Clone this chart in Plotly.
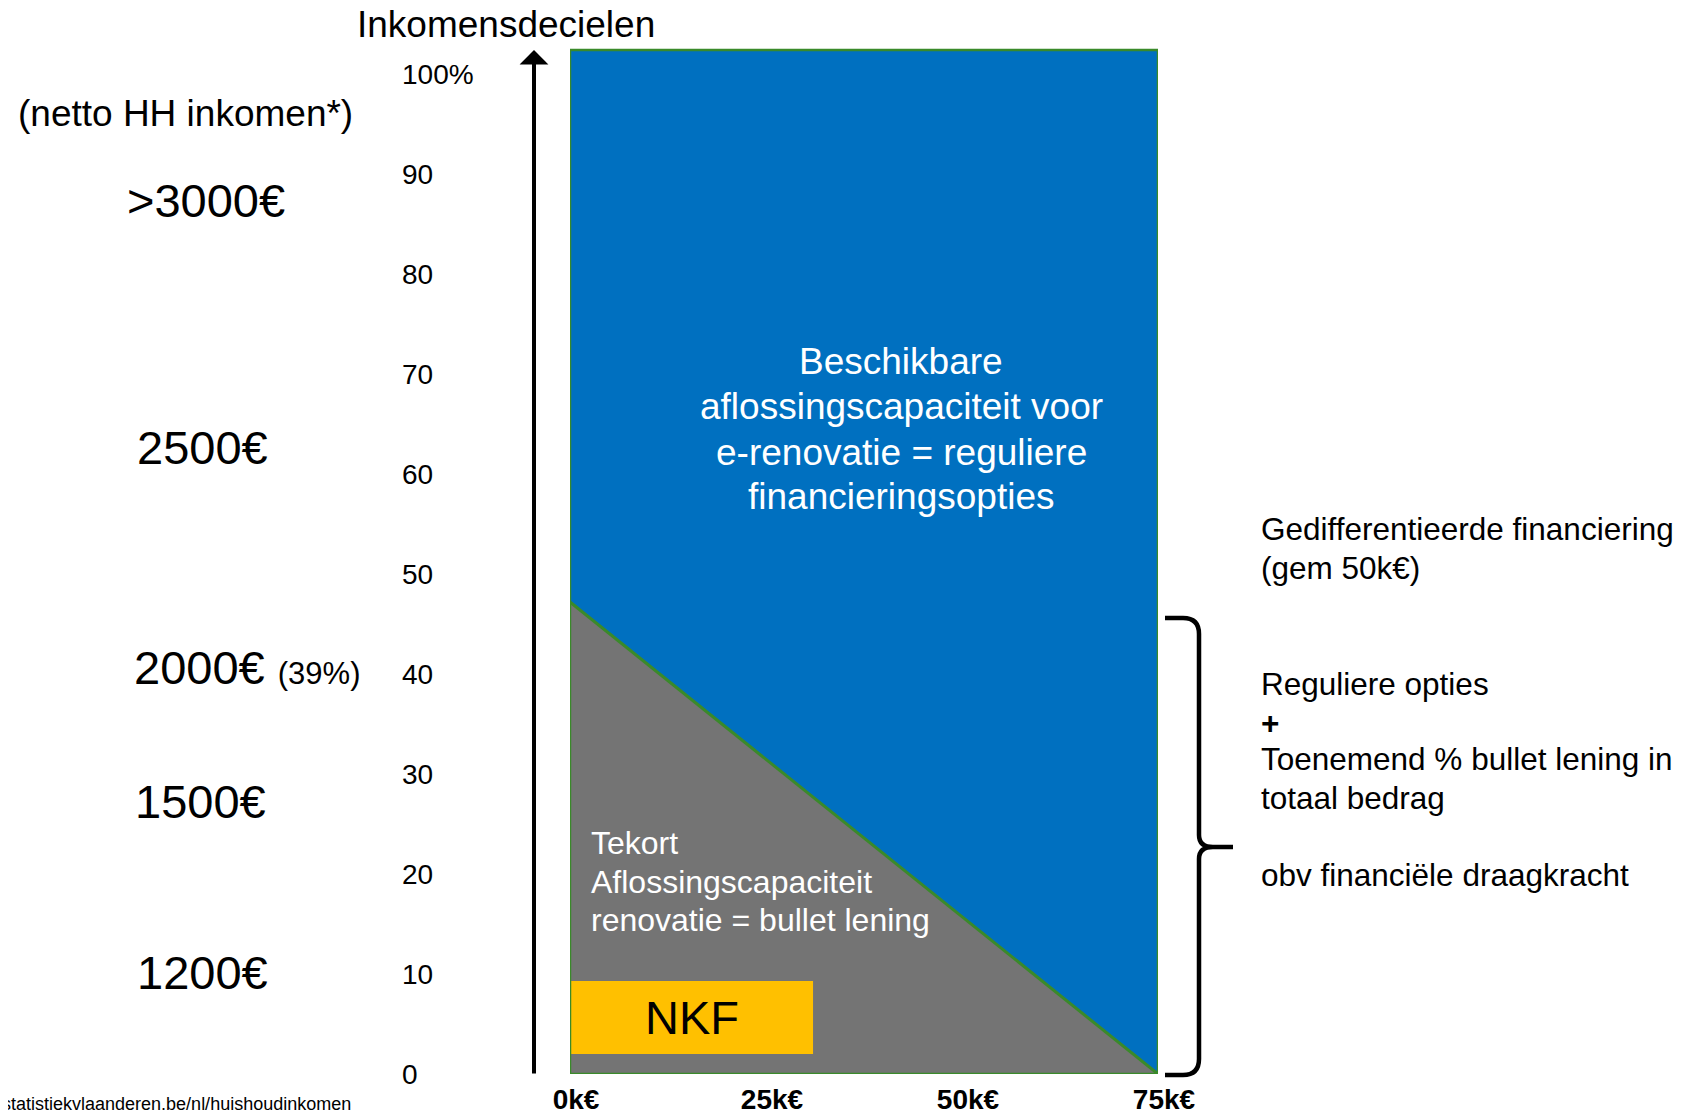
import plotly.graph_objects as go

# ---------------- data ----------------
decile_ticks = [0, 10, 20, 30, 40, 50, 60, 70, 80, 90, 100]
decile_labels = ["0", "10", "20", "30", "40", "50", "60", "70", "80", "90", "100%"]

amount_ticks = [0, 25, 50, 75]
amount_labels = ["0k€", "25k€", "50k€", "75k€"]

# deficit (bullet-loan) boundary: capacity shortfall from 0k€ to 75k€
deficit_x = [0, 75]
deficit_y = [47.2, 0]

# NKF block
nkf_x = [0, 31]
nkf_y = [2.0, 9.3]

rect_top = 102.4

income_labels = [">3000€", "2500€", "2000€", "1500€", "1200€"]
income_decile = [87.4, 62.7, 40.7, 27.3, 10.2]
income_note = "(39%)"

blue_lines = ["Beschikbare", "aflossingscapaciteit voor", "e-renovatie = reguliere", "financieringsopties"]
grey_lines = ["Tekort", "Aflossingscapaciteit", "renovatie = bullet lening"]
right_lines = ["Gedifferentieerde financiering", "(gem 50k€)", "Reguliere opties", "+",
               "Toenemend % bullet lening in", "totaal bedrag", "obv financiële draagkracht"]

# ---------------- layout helpers ----------------
W, H = 1686, 1114
OFF = 8  # page body margin
FONT = "Liberation Sans, Arial, sans-serif"
BLUE = "#0070C0"
GREY = "#747474"
GOLD = "#FFC000"
GREEN = "#3A8A2A"


def px(x):
    return (x - OFF) / W


def py(y):
    return 1 - (y - OFF) / H


fig = go.Figure()

# blue rectangle (available capacity)
fig.add_trace(go.Scatter(x=[0, 0, 75, 75, 0], y=[0, rect_top, rect_top, 0, 0],
                         mode="lines", fill="toself", fillcolor=BLUE,
                         line=dict(width=0, color=BLUE), hoverinfo="skip", cliponaxis=False))
# grey triangle (deficit)
fig.add_trace(go.Scatter(x=[deficit_x[0], deficit_x[0], deficit_x[1], deficit_x[0]],
                         y=[0, deficit_y[0], deficit_y[1], 0],
                         mode="lines", fill="toself", fillcolor=GREY,
                         line=dict(width=0, color=GREY), hoverinfo="skip", cliponaxis=False))
# NKF box
fig.add_trace(go.Scatter(x=[nkf_x[0], nkf_x[0], nkf_x[1], nkf_x[1], nkf_x[0]],
                         y=[nkf_y[0], nkf_y[1], nkf_y[1], nkf_y[0], nkf_y[0]],
                         mode="lines", fill="toself", fillcolor=GOLD,
                         line=dict(width=0, color=GOLD), hoverinfo="skip", cliponaxis=False))
# diagonal boundary
fig.add_trace(go.Scatter(x=deficit_x, y=deficit_y, mode="lines",
                         line=dict(width=3, color=GREEN), hoverinfo="skip", cliponaxis=False))
# rectangle outline
fig.add_trace(go.Scatter(x=[0, 0, 75, 75, 0], y=[0, rect_top, rect_top, 0, 0], mode="lines",
                         line=dict(width=2.5, color=GREEN), hoverinfo="skip", cliponaxis=False))
# invisible trace to carry decile axis
fig.add_trace(go.Scatter(x=[0, 0], y=[0, 100], yaxis="y2", mode="markers",
                         marker=dict(opacity=0), hoverinfo="skip"))

annotations = []

# axis arrow
annotations.append(dict(xref="paper", yref="y", x=px(534), y=rect_top, axref="pixel", ayref="y",
                        ax=0, ay=-0.1, showarrow=True, arrowhead=1, arrowsize=1.2,
                        arrowwidth=4, arrowcolor="black", text=""))

# title
annotations.append(dict(xref="paper", yref="paper", x=px(506), y=py(25), text="Inkomensdecielen",
                        showarrow=False, font=dict(family=FONT, size=37, color="black"),
                        xanchor="center", yanchor="middle"))
annotations.append(dict(xref="paper", yref="paper", x=px(185), y=py(114), text="(netto HH inkomen*)",
                        showarrow=False, font=dict(family=FONT, size=37, color="black"),
                        xanchor="center", yanchor="middle"))

income_x = [206, 202, 132, 200, 202]
for i, (lab, dec) in enumerate(zip(income_labels, income_decile)):
    if lab == "2000€":
        annotations.append(dict(xref="paper", yref="y", x=px(income_x[i]), y=dec,
                                text=lab + " <span style='font-size:31px'>" + income_note + "</span>",
                                showarrow=False, font=dict(family=FONT, size=47, color="black"),
                                xanchor="left", yanchor="middle"))
    else:
        annotations.append(dict(xref="paper", yref="y", x=px(income_x[i]), y=dec, text=lab,
                                showarrow=False, font=dict(family=FONT, size=47, color="black"),
                                xanchor="center", yanchor="middle"))

# source
annotations.append(dict(xref="paper", yref="paper", x=px(353), y=py(1104),
                        text="statistiekvlaanderen.be/nl/huishoudinkomen", showarrow=False,
                        font=dict(family=FONT, size=18, color="black"), xanchor="right", yanchor="middle"))

# blue text
blue_y = [361, 406, 452, 497]
for t, yy in zip(blue_lines, blue_y):
    annotations.append(dict(xref="paper", yref="paper", x=px(901), y=py(yy), text=t, showarrow=False,
                            font=dict(family=FONT, size=37, color="white"),
                            xanchor="center", yanchor="middle"))

# grey text
grey_y = [843, 882, 920]
for t, yy in zip(grey_lines, grey_y):
    annotations.append(dict(xref="paper", yref="paper", x=px(589), y=py(yy), text=t, showarrow=False,
                            font=dict(family=FONT, size=32, color="white"),
                            xanchor="left", yanchor="middle"))

# NKF text
annotations.append(dict(xref="x", yref="y", x=(nkf_x[0] + nkf_x[1]) / 2, y=(nkf_y[0] + nkf_y[1]) / 2,
                        text="NKF", showarrow=False, font=dict(family=FONT, size=47, color="black"),
                        xanchor="center", yanchor="middle"))

# right text
right_y = [529, 568, 684, 723, 759, 798, 875]
for t, yy in zip(right_lines, right_y):
    txt = "<b>" + t + "</b>" if t == "+" else t
    annotations.append(dict(xref="paper", yref="paper", x=px(1259), y=py(yy), text=txt, showarrow=False,
                            font=dict(family=FONT, size=31.5, color="black"),
                            xanchor="left", yanchor="middle"))

# brace
bx_end, bx_v, bx_tip = 1165, 1199, 1233
by_top, by_mid, by_bot = 618, 847, 1075
r = 16
pts = [
    f"M {px(bx_end)},{py(by_top)}",
    f"L {px(bx_v - r)},{py(by_top)}",
    f"Q {px(bx_v)},{py(by_top)} {px(bx_v)},{py(by_top + r)}",
    f"L {px(bx_v)},{py(by_mid - 12)}",
    f"Q {px(bx_v)},{py(by_mid)} {px(bx_v + 14)},{py(by_mid)}",
    f"L {px(bx_tip)},{py(by_mid)}",
    f"M {px(bx_v + 14)},{py(by_mid)}",
    f"Q {px(bx_v)},{py(by_mid)} {px(bx_v)},{py(by_mid + 12)}",
    f"L {px(bx_v)},{py(by_bot - r)}",
    f"Q {px(bx_v)},{py(by_bot)} {px(bx_v - r)},{py(by_bot)}",
    f"L {px(bx_end)},{py(by_bot)}",
]
shapes = [dict(type="path", xref="paper", yref="paper", path=" ".join(pts),
               line=dict(color="black", width=4.5))]

y_bottom_px = 1074
y_dom_bottom = py(y_bottom_px)
y_range_top = (y_bottom_px - OFF) / 10
fig.update_layout(
    width=W, height=H,
    margin=dict(l=0, r=0, t=0, b=0, autoexpand=False),
    paper_bgcolor="white", plot_bgcolor="white",
    showlegend=False, hovermode=False,
    xaxis=dict(domain=[px(570), px(1158)], range=[0, 75], showgrid=False, zeroline=False,
               showline=False, tickvals=amount_ticks, ticktext=amount_labels, ticks="",
               tickfont=dict(family=FONT, size=28, color="black", weight="bold"),
               ticklabelstandoff=6, ticklabelshift=6, fixedrange=True, automargin=False),
    yaxis=dict(domain=[y_dom_bottom, 1], range=[0, y_range_top], visible=False,
               fixedrange=True, automargin=False),
    yaxis2=dict(overlaying="y", side="right", anchor="free", position=px(401),
                range=[0, y_range_top], showgrid=False, zeroline=False, showline=False,
                tickvals=decile_ticks, ticktext=decile_labels, ticks="",
                tickfont=dict(family=FONT, size=28, color="black"), fixedrange=True,
                automargin=False),
    annotations=annotations,
    shapes=shapes,
)

fig.write_html("out.html")
